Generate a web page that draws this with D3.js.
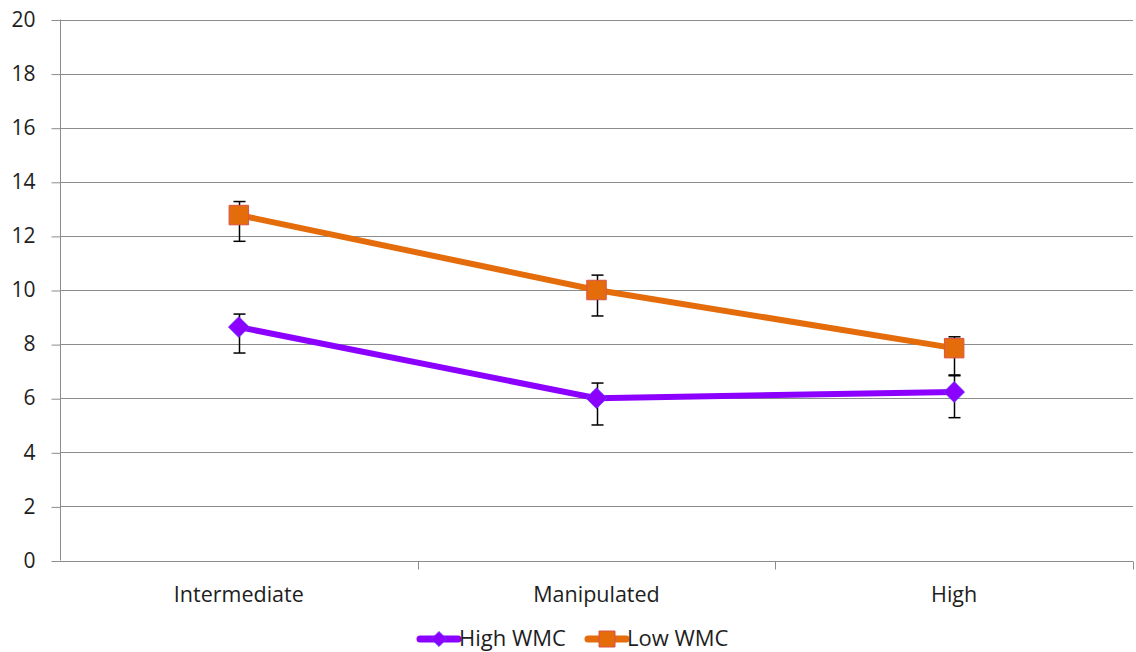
<!DOCTYPE html>
<html>
<head>
<meta charset="utf-8">
<title>WMC chart</title>
<style>
  body { margin: 0; background: #fff; }
  text { font-family: "Open Sans", "Liberation Sans", sans-serif; fill: #1e1e1e; }
</style>
</head>
<body>
<div id="chart"></div>
<script src="https://d3js.org/d3.v7.min.js"></script>
<script>
var categories = ["Intermediate", "Manipulated", "High"];
var seriesNames = ["High WMC", "Low WMC"];
var highWMC = [8.63, 6.0, 6.23];
var highPlus = [0.48, 0.56, 0.6];
var highMinus = [0.96, 0.99, 0.95];
var lowWMC = [12.77, 10.0, 7.85];
var lowPlus = [0.5, 0.55, 0.42];
var lowMinus = [0.97, 0.96, 0.99];
var yTicks = [0, 2, 4, 6, 8, 10, 12, 14, 16, 18, 20];

var width = 1136, height = 652;
var margin = {left: 60, right: 3, top: 19.5, bottom: 91.5};

var svg = d3.select("#chart").append("svg")
  .attr("width", width).attr("height", height);

var x = d3.scaleBand().domain(categories)
  .range([margin.left, width - margin.right]);
var y = d3.scaleLinear().domain([0, 20])
  .range([height - margin.bottom, margin.top]);

// grid
svg.append("g").selectAll("line").data(yTicks.slice(1)).enter().append("line")
  .attr("x1", margin.left).attr("x2", width - margin.right)
  .attr("y1", function(d) { return Math.round(y(d)) + 0.5; })
  .attr("y2", function(d) { return Math.round(y(d)) + 0.5; })
  .attr("stroke", "#8c8c8c").attr("stroke-width", 1);

// y axis
var yAxis = svg.append("g")
  .attr("transform", "translate(" + (margin.left + 0.5) + ",0)")
  .call(d3.axisLeft(y).tickValues(yTicks).tickSize(9).tickPadding(16));
yAxis.selectAll("path, line").attr("stroke", "#8c8c8c");
yAxis.select(".domain").attr("d", "M0," + y(20) + "V" + y(0));
yAxis.selectAll("line").attr("transform", "translate(0,0.5)");
yAxis.selectAll("text").style("font-size", "21px")
  .attr("font-family", null).attr("fill", "#1e1e1e");

// x axis
var y0 = Math.round(y(0)) + 0.5;
svg.append("line").attr("x1", margin.left).attr("x2", width - margin.right)
  .attr("y1", y0).attr("y2", y0).attr("stroke", "#8c8c8c");
var bounds = categories.map(function(c) { return x(c) + x.bandwidth(); });
svg.append("g").selectAll("line").data(bounds).enter().append("line")
  .attr("x1", function(d) { return Math.round(d) + 0.5; })
  .attr("x2", function(d) { return Math.round(d) + 0.5; })
  .attr("y1", y0).attr("y2", y0 + 8).attr("stroke", "#8c8c8c");
svg.append("g").selectAll("text").data(categories).enter().append("text")
  .attr("x", function(d) { return x(d) + x.bandwidth() / 2; })
  .attr("y", 602)
  .attr("text-anchor", "middle").style("font-size", "21.5px")
  .text(function(d) { return d; });

var series = [
  {name: seriesNames[0], values: highWMC, plus: highPlus, minus: highMinus,
   color: "#8b00ff", border: "#6a3cff", diamond: true, size: 340},
  {name: seriesNames[1], values: lowWMC, plus: lowPlus, minus: lowMinus,
   color: "#e46c0a", border: "#d9534a", diamond: false, size: 380}
];

var cx = function(i) { return x(categories[i]) + x.bandwidth() / 2; };
var line = d3.line().x(function(d, i) { return cx(i); }).y(function(d) { return y(d); });

series.forEach(function(s) {
  var g = svg.append("g");
  // error bars
  s.values.forEach(function(v, i) {
    var px = Math.round(cx(i)) + 0.5;
    var top = y(v + s.plus[i]), bot = y(v - s.minus[i]);
    g.append("line").attr("x1", px).attr("x2", px).attr("y1", top).attr("y2", bot)
      .attr("stroke", "#000").attr("stroke-width", 1.5);
    [top, bot].forEach(function(yy) {
      g.append("line").attr("x1", px - 6).attr("x2", px + 6).attr("y1", yy).attr("y2", yy)
        .attr("stroke", "#000").attr("stroke-width", 1.5);
    });
  });
  g.append("path").datum(s.values).attr("d", line)
    .attr("fill", "none").attr("stroke", s.color).attr("stroke-width", 6);
  g.selectAll(".m").data(s.values).enter().append("path")
    .attr("d", d3.symbol().type(d3.symbolSquare).size(s.size))
    .attr("transform", function(d, i) {
      return "translate(" + cx(i) + "," + y(d) + ")" + (s.diamond ? " rotate(45) scale(0.8)" : "");
    })
    .attr("fill", s.color).attr("stroke", s.border).attr("stroke-width", 1);
});

// legend
var legend = svg.append("g");
var lx = [420, 588];
series.forEach(function(s, k) {
  var ly = 639;
  legend.append("line").attr("x1", lx[k]).attr("x2", lx[k] + 38).attr("y1", ly).attr("y2", ly)
    .attr("stroke", s.color).attr("stroke-width", 7).attr("stroke-linecap", "round");
  legend.append("path")
    .attr("d", d3.symbol().type(d3.symbolSquare).size(s.diamond ? 180 : 256))
    .attr("transform", "translate(" + (lx[k] + 19) + "," + ly + ")" + (s.diamond ? " rotate(45) scale(0.8)" : ""))
    .attr("fill", s.color).attr("stroke", s.border).attr("stroke-width", 1);
  legend.append("text").attr("x", lx[k] + 39).attr("y", 646)
    .style("font-size", "22px").text(s.name);
});
</script>
</body>
</html>
